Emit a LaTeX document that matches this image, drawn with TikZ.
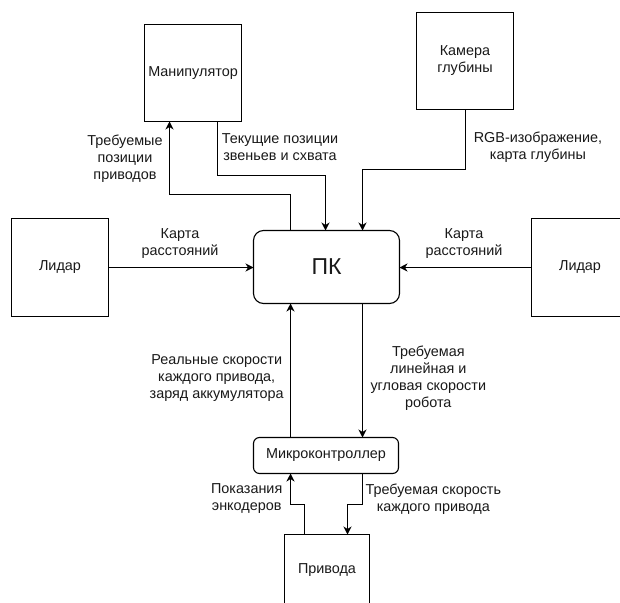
\documentclass[tikz,border=0pt]{standalone}
\usepackage{fontspec}
\setmainfont{Liberation Sans}
\usetikzlibrary{arrows.meta}

\tikzset{
  blk/.style={draw=black, line width=1.1pt, fill=white, inner sep=0pt, outer sep=0pt, anchor=north west},
  rblk/.style={blk, rounded corners=#1},
  lbl/.style={align=center, inner sep=0pt, font=\fontsize{14.4}{17}\selectfont, text=black!90},
  arr/.style={draw=black, line width=1.1pt, -{Stealth[length=8pt,width=8pt,inset=2.5pt]}}
}

\begin{document}
\begin{tikzpicture}[x=1pt, y=-1pt]
  \clip (0,0) rectangle (620,602);
  \fill[white] (0,0) rectangle (620,602);

  % blocks
  \node[blk, minimum width=97pt, minimum height=97pt] (man) at (144.5,24.5) {};
  \node[lbl] at (man.center) {Манипулятор};
  \node[blk, minimum width=97pt, minimum height=97pt] (cam) at (416.5,12.5) {};
  \node[lbl] at (cam.center) {Камера\\глубины};
  \node[blk, minimum width=97pt, minimum height=98pt] (lidl) at (11.5,218.5) {};
  \node[lbl] at (lidl.center) {Лидар};
  \node[blk, minimum width=97pt, minimum height=98pt] (lidr) at (531.5,218.5) {};
  \node[lbl] at (lidr.center) {Лидар};
  \node[rblk=10pt, minimum width=146pt, minimum height=73pt] (pk) at (253.5,230.5) {};
  \node[lbl, font=\fontsize{23}{27}\selectfont] at (pk.center) {ПК};
  \node[rblk=6pt, minimum width=145pt, minimum height=36pt] (mcu) at (253.5,437.5) {};
  \node[lbl] at (mcu.center) {Микроконтроллер};
  \node[blk, minimum width=85pt, minimum height=72pt] (drv) at (284.5,534.5) {};
  \node[lbl] at (drv.center) {Привода};

  % PK <-> manipulator
  \draw[arr] (pk.north -| 290.5,0) -- (290.5,194.5) -- (169.5,194.5) -- (man.south -| 169.5,0);
  \draw[arr] (man.south -| 217.5,0) -- (217.5,175.5) -- (325.5,175.5) -- (pk.north -| 325.5,0);
  % depth camera -> PK
  \draw[arr] (cam.south -| 465.5,0) -- (465.5,169.5) -- (362.5,169.5) -- (pk.north -| 362.5,0);
  % lidars -> PK
  \draw[arr] (lidl.east |- 0,267.5) -- (pk.west |- 0,267.5);
  \draw[arr] (lidr.west |- 0,267.5) -- (pk.east |- 0,267.5);
  % PK <-> microcontroller
  \draw[arr] (mcu.north -| 290.5,0) -- (pk.south -| 290.5,0);
  \draw[arr] (pk.south -| 362.5,0) -- (mcu.north -| 362.5,0);
  % microcontroller <-> drives
  \draw[arr] (drv.north -| 304.5,0) -- (304.5,504.5) -- (290.5,504.5) -- (mcu.south -| 290.5,0);
  \draw[arr] (mcu.south -| 362.5,0) -- (362.5,504.5) -- (347.5,504.5) -- (drv.north -| 347.5,0);

  % labels
  \node[lbl] at (125,159) {Требуемые\\позиции\\приводов};
  \node[lbl] at (280,147.5) {Текущие позиции\\звеньев и схвата};
  \node[lbl] at (538,147.5) {RGB-изображение,\\карта глубины};
  \node[lbl] at (180,243.5) {Карта\\расстояний};
  \node[lbl] at (464,243.5) {Карта\\расстояний};
  \node[lbl] at (216.7,378.5) {Реальные скорости\\каждого привода,\\заряд аккумулятора};
  \node[lbl] at (428.3,378) {Требуемая\\линейная и\\угловая скорости\\робота};
  \node[lbl] at (246.7,499) {Показания\\энкодеров};
  \node[lbl] at (433.3,499) {Требуемая скорость\\каждого привода};
\end{tikzpicture}
\end{document}
